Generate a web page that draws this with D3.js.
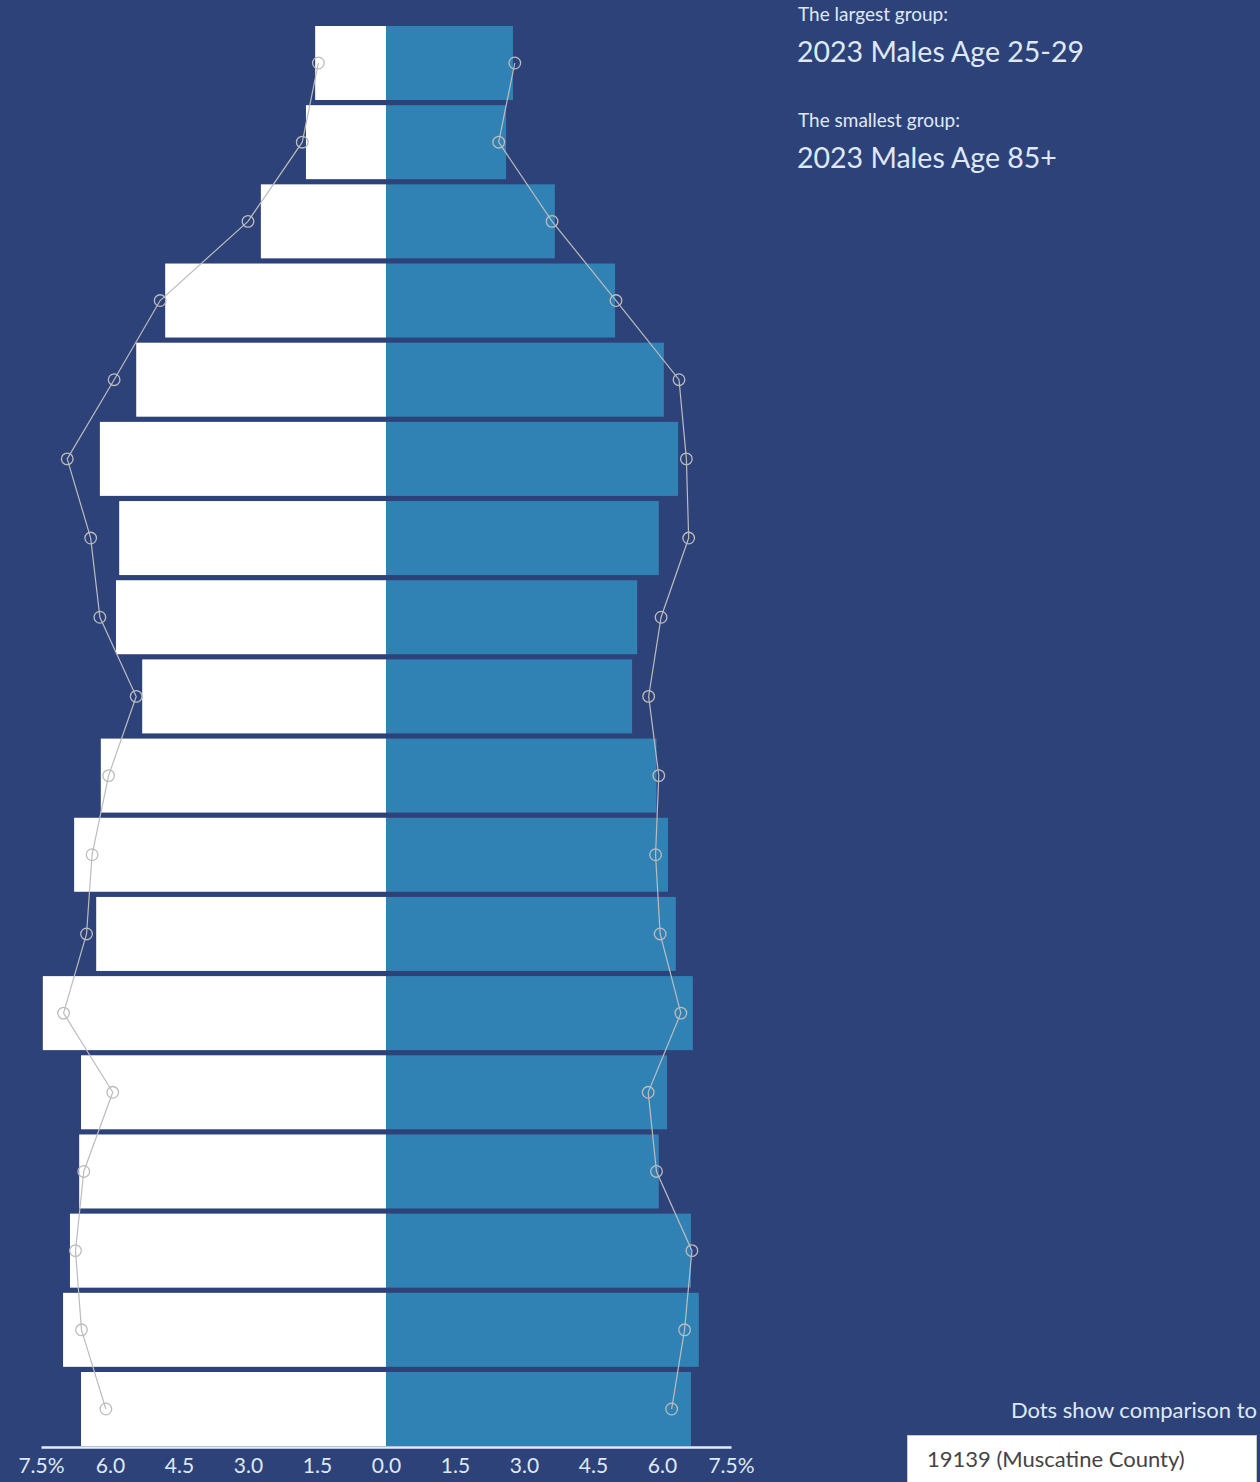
<!DOCTYPE html>
<html>
<head>
<meta charset="utf-8">
<script src="https://cdn.jsdelivr.net/npm/d3@7"></script>
<style>
  body { margin: 0; background: #2e427a; }
  svg { display: block; font-family: Lato, "Noto Sans", sans-serif; }
</style>
</head>
<body>
<div id="chart"></div>
<script>
// age groups, top of the pyramid first
const ages = ["85+", "80-84", "75-79", "70-74", "65-69", "60-64", "55-59", "50-54", "45-49",
              "40-44", "35-39", "30-34", "25-29", "20-24", "15-19", "10-14", "5-9", "0-4"];

// share of population (%) by sex
const males   = [1.54, 1.74, 2.72, 4.80, 5.43, 6.22, 5.80, 5.87, 5.30, 6.20, 6.78, 6.30, 7.46, 6.63, 6.67, 6.87, 7.02, 6.63];
const females = [2.76, 2.61, 3.67, 4.98, 6.04, 6.35, 5.93, 5.46, 5.35, 5.88, 6.13, 6.30, 6.67, 6.11, 5.93, 6.63, 6.80, 6.63];

// comparison dots (Muscatine County)
const compMales   = [1.47, 1.82, 3.00, 4.91, 5.91, 6.93, 6.42, 6.22, 5.43, 6.03, 6.39, 6.51, 7.01, 5.94, 6.57, 6.75, 6.62, 6.09];
const compFemales = [2.80, 2.45, 3.61, 5.00, 6.37, 6.53, 6.58, 5.98, 5.71, 5.93, 5.86, 5.96, 6.41, 5.70, 5.88, 6.65, 6.49, 6.21];

const tickValues = [-7.5, -6, -4.5, -3, -1.5, 0, 1.5, 3, 4.5, 6, 7.5];

const largestLabel = "2023 Males Age 25-29";
const smallestLabel = "2023 Males Age 85+";
const compareName = "19139 (Muscatine County)";

const width = 1260, height = 1482;
const textColor = "#dfe9f6";

const svg = d3.select("#chart").append("svg")
    .attr("width", width)
    .attr("height", height);

const x = d3.scaleLinear().domain([-7.5, 7.5]).range([41, 731]);
const y = d3.scaleBand().domain(ages).range([26, 1446]).paddingInner(0.0654);

const rows = ages.map((a, i) => ({
  age: a, m: males[i], f: females[i], cm: compMales[i], cf: compFemales[i]
}));

// male bars (left)
svg.append("g").selectAll("rect")
  .data(rows)
  .join("rect")
    .attr("x", d => x(-d.m))
    .attr("y", d => y(d.age))
    .attr("width", d => x(0) - x(-d.m))
    .attr("height", y.bandwidth())
    .attr("fill", "#ffffff");

// female bars (right)
svg.append("g").selectAll("rect")
  .data(rows)
  .join("rect")
    .attr("x", x(0))
    .attr("y", d => y(d.age))
    .attr("width", d => x(d.f) - x(0))
    .attr("height", y.bandwidth())
    .attr("fill", "#3182b4");

// comparison lines and dots
const cy = d => y(d.age) + y.bandwidth() / 2;
const lineM = d3.line().x(d => x(-d.cm)).y(cy);
const lineF = d3.line().x(d => x(d.cf)).y(cy);

svg.append("path").attr("d", lineM(rows))
    .attr("fill", "none").attr("stroke", "#bcbcbc").attr("stroke-width", 1.2);
svg.append("path").attr("d", lineF(rows))
    .attr("fill", "none").attr("stroke", "#bcbcbc").attr("stroke-width", 1.2);

svg.append("g").selectAll("circle")
  .data(rows)
  .join("circle")
    .attr("cx", d => x(-d.cm)).attr("cy", cy).attr("r", 5.8)
    .attr("fill", "none").attr("stroke", "#bcbcbc").attr("stroke-width", 1.3);
svg.append("g").selectAll("circle")
  .data(rows)
  .join("circle")
    .attr("cx", d => x(d.cf)).attr("cy", cy).attr("r", 5.8)
    .attr("fill", "none").attr("stroke", "#bcbcbc").attr("stroke-width", 1.3);

// x axis
const axis = svg.append("g")
    .attr("transform", "translate(0,1447)")
    .call(d3.axisBottom(x)
      .tickValues(tickValues)
      .tickSize(0)
      .tickPadding(11)
      .tickFormat(d => Math.abs(d).toFixed(1) + (Math.abs(d) === 7.5 ? "%" : "")));
axis.select(".domain").attr("stroke", "#e4ecf8").attr("stroke-width", 2.5);
axis.selectAll("text")
    .attr("fill", textColor)
    .attr("font-size", 21)
    .attr("font-family", "Lato, 'Noto Sans', sans-serif");

// summary text
const info = svg.append("g").attr("fill", textColor);
info.append("text").attr("x", 798).attr("y", 21).attr("font-size", 19).text("The largest group:");
info.append("text").attr("x", 797).attr("y", 62).attr("font-size", 28.5).text(largestLabel);
info.append("text").attr("x", 798).attr("y", 127).attr("font-size", 19).text("The smallest group:");
info.append("text").attr("x", 797).attr("y", 168).attr("font-size", 28.5).text(smallestLabel);

// comparison selector
svg.append("text")
    .attr("x", 1257).attr("y", 1418)
    .attr("text-anchor", "end")
    .attr("font-size", 22)
    .attr("fill", textColor)
    .text("Dots show comparison to");

svg.append("rect")
    .attr("x", 907.5).attr("y", 1435.5)
    .attr("width", 349).attr("height", 60)
    .attr("fill", "#ffffff")
    .attr("stroke", "#c8c8c8");
svg.append("text")
    .attr("x", 927).attr("y", 1467)
    .attr("font-size", 22)
    .attr("fill", "#444444")
    .text(compareName);
</script>
</body>
</html>
